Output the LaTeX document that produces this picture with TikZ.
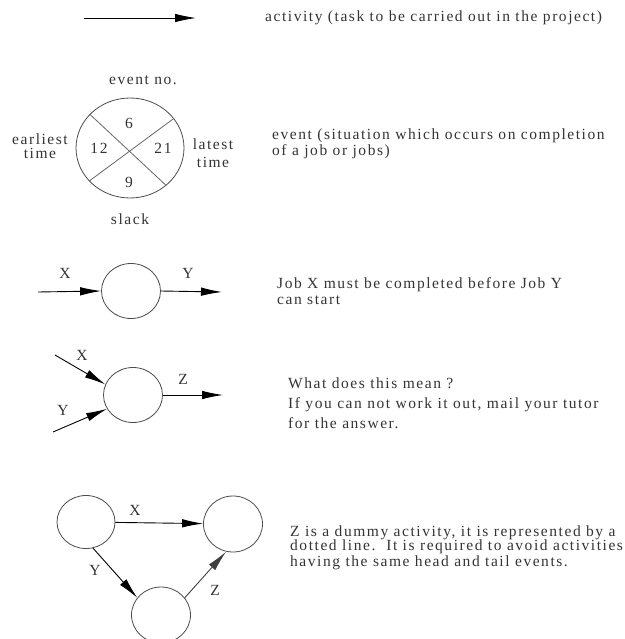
\documentclass[tikz,border=0pt]{standalone}
\usepackage{fontspec}
\setmainfont{Liberation Serif}[LetterSpace=10]
\usetikzlibrary{arrows.meta,shapes.geometric}
\begin{document}
\begin{tikzpicture}[x=1pt,y=-1pt,
  font=\fontsize{15.5}{18.5}\selectfont,
  evt/.style={draw=black!70, line width=0.8pt, ellipse, inner sep=0pt,
              minimum width=59pt, minimum height=55pt},
  act/.style={-{Latex[length=21pt,width=8.5pt]}, line width=0.9pt, draw=black},
  lbl/.style={text=black!80, inner sep=0pt},
  txt/.style={anchor=west, inner sep=0pt, text=black!80, align=left}]
\useasboundingbox (0,0) rectangle (624,639);

% legend: activity
\coordinate (a0) at (84,18);
\coordinate (a1) at (196,18);
\draw[act] (a0) -- (a1);
\node[txt] (tact) at (265,18) {activity (task to be carried out in the project)};

% legend: event
\node[evt, minimum width=108pt, minimum height=100pt] (ev) at (130,148) {};
\draw[draw=black!60, line width=0.8pt] (ev.140) -- (ev.-46);
\draw[draw=black!60, line width=0.8pt] (ev.34) -- (ev.219);
\node[lbl] (n6)  at (129,123) {6};
\node[lbl] (n12) at (99,148) {12};
\node[lbl] (n21) at (163,148) {21};
\node[lbl] (n9)  at (129,182) {9};
\node[lbl] (evno) at (143,80) {event no.};
\node[lbl, align=center] (earl) at (40,146) {earliest\\[-4pt]time};
\node[lbl, align=center] (late) at (213,153) {latest\\time};
\node[lbl] (slack) at (130,219) {slack};
\node[txt] (tev) at (272,144) {event (situation which occurs on completion\\[-2pt]of a job or jobs)};

% X before Y
\node[evt] (c2) at (131,291) {};
\coordinate (c2in) at (38,292);
\coordinate (c2out) at (222,292);
\draw[act] (c2in) -- (c2.west);
\draw[act] (c2.east) -- (c2out);
\node[lbl] (c2x) at (65,273) {X};
\node[lbl] (c2y) at (188,273) {Y};
\node[txt] (tjob) at (277,291) {Job X must be completed before Job Y\\[-2pt]can start};

% X and Y before Z
\node[evt] (c3) at (133,395) {};
\coordinate (c3x) at (55,355);
\coordinate (c3y) at (53,432);
\coordinate (c3out) at (223,395);
\draw[act] (c3x) -- (c3.159);
\draw[act] (c3y) -- (c3.208);
\draw[act] (c3.east) -- (c3out);
\node[lbl] (l3x) at (82,355) {X};
\node[lbl] (l3y) at (63,410) {Y};
\node[lbl] (l3z) at (183,379) {Z};
\node[txt] (tq) at (288,403) {What does this mean ?\\[1.5pt]If you can not work it out, mail your tutor\\[1.5pt]for the answer.};

% dummy activity
\node[evt, minimum width=58pt, minimum height=53pt] (ca) at (86,522) {};
\node[evt, minimum height=56pt] (cb) at (233,524) {};
\node[evt, minimum height=56pt] (cc) at (161,615) {};
\draw[act] (ca) -- (cb);
\draw[act] (ca.-75) -- (cc.144);
\draw[act, draw=black!75] (cc.36) -- (cb.-104);
\node[lbl] (l4x) at (135,510) {X};
\node[lbl] (l4y) at (95,570) {Y};
\node[lbl] (l4z) at (215,590) {Z};
\node[txt] (tz) at (290,548) {Z is a dummy activity, it is represented by a\\[-4.5pt]dotted line.\ \ It is required to avoid activities\\[-3pt]having the same head and tail events.};
\end{tikzpicture}
\end{document}
